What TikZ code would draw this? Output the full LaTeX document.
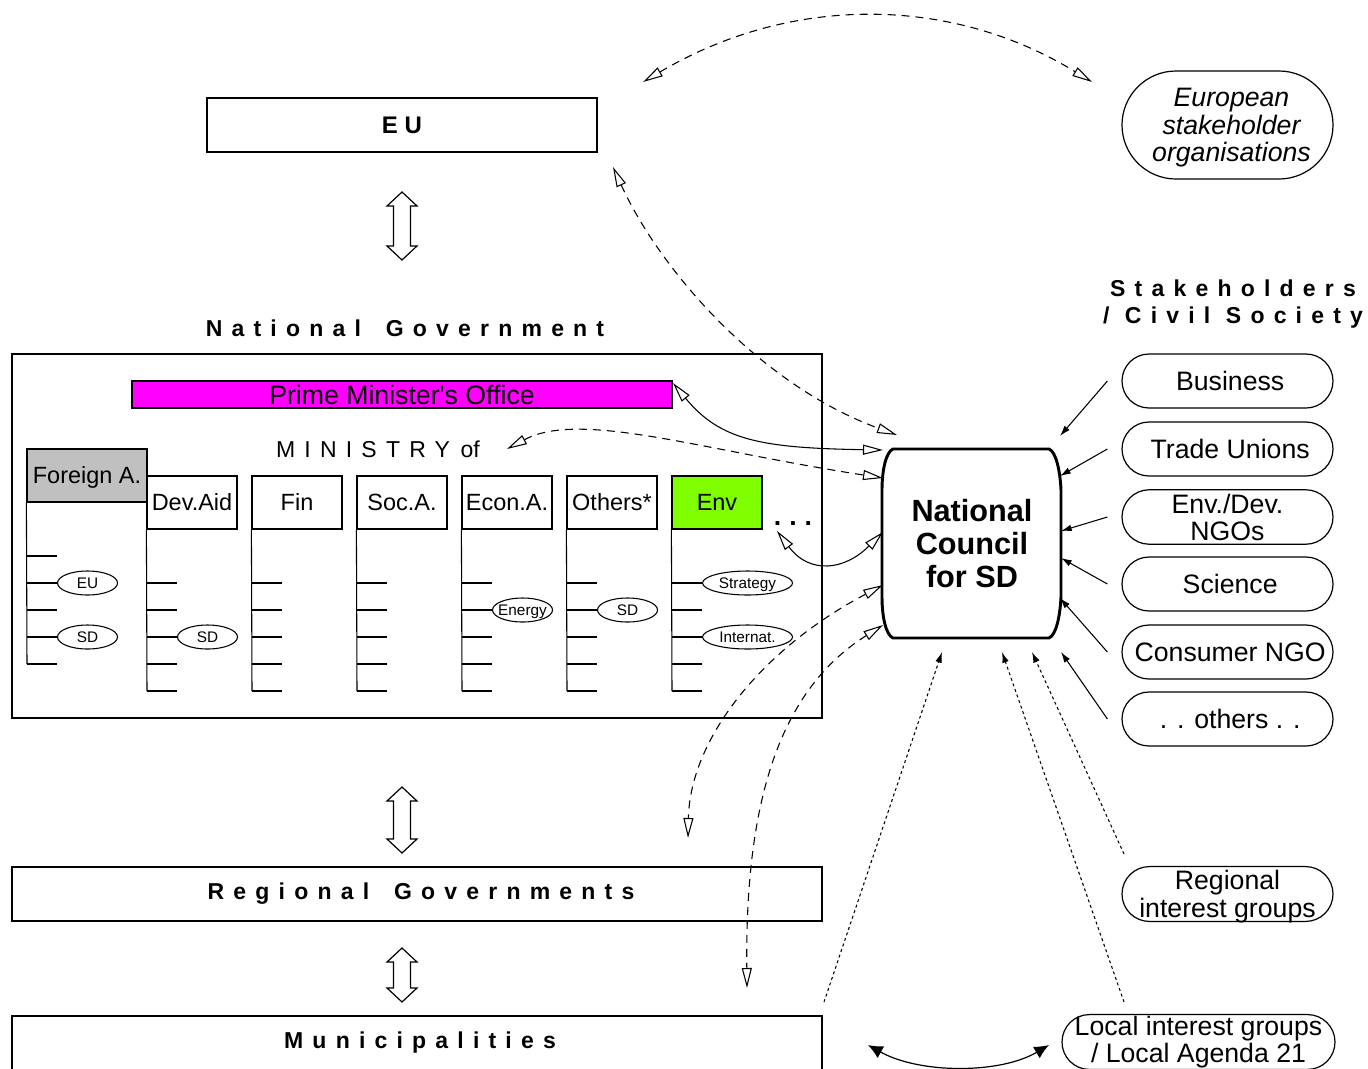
\documentclass[tikz,border=0pt]{standalone}
\usepackage{fontspec}
\setmainfont{Liberation Sans}
\newfontfamily\spacedfont[LetterSpace=40]{Liberation Sans}
\usetikzlibrary{arrows.meta,shapes.geometric,shapes.misc,calc}
\definecolor{envgreen}{RGB}{128,255,0}
\definecolor{fagray}{RGB}{192,192,192}
\definecolor{pmomag}{RGB}{255,0,255}
\newcommand\ttlfont{\spacedfont\bfseries\fontsize{17.25}{20.25}\selectfont}
\newcommand\zw[1]{\makebox[0pt]{#1}}
\newcommand\ztab[2][-3pt]{\makebox[0pt]{\raisebox{#1}[\height][\depth]{\begin{tabular}{@{}c@{}}#2\end{tabular}}}}
\tikzset{
  box/.style={draw, line width=0.9pt, inner sep=0pt},
  hdr/.style={box, minimum width=67.5pt, minimum height=39.75pt, text height=12.6pt, text depth=0pt, font=\fontsize{17.6}{20}\selectfont},
  sub/.style={draw, ellipse, line width=0.8pt, inner sep=0pt, minimum height=18pt, text height=8.2pt, text depth=0pt, font=\fontsize{11.5}{13}\selectfont},
  stake/.style={draw, rounded rectangle, line width=0.9pt, inner sep=0pt, minimum width=158.25pt, minimum height=40.5pt, align=center, font=\fontsize{20}{20.25}\selectfont},
  tick/.style={line width=0.8pt},
  opentips/.style={{Triangle[open,length=15pt,width=7.5pt]}-{Triangle[open,length=15pt,width=7.5pt]}},
  dashlink/.style={opentips, line width=0.8pt, dash pattern=on 6pt off 4.5pt},
  solidlink/.style={opentips, line width=0.8pt},
  dotlink/.style={line width=0.8pt, dash pattern=on 2.2pt off 2.2pt, -{Latex[length=8pt,width=5pt]}},
  stlink/.style={line width=0.8pt, -{Latex[length=8pt,width=5pt]}},
  pics/dblarr/.style={code={
    \draw[line width=0.9pt, fill=white] (0,-#1) -- (15,-#1+14) -- (8.5,-#1+14) -- (8.5,#1-14) -- (15,#1-14)
      -- (0,#1) -- (-15,#1-14) -- (-8.5,#1-14) -- (-8.5,-#1+14) -- (-15,-#1+14) -- cycle;
  }}
}
\begin{document}
\begin{tikzpicture}[x=0.75pt,y=-0.75pt]
\useasboundingbox (0,0) rectangle (1368,1068);

% EU
\node[box, minimum width=292.5pt, minimum height=40.5pt, font=\bfseries\fontsize{18}{20}\selectfont] (eu) at (402,125) {E U};
\pic at (402,226) {dblarr=34};

% National government
\node[font=\ttlfont] (ngtitle) at (405,328) {National\hspace{7pt} Government};
\node[box, minimum width=607.5pt, minimum height=273pt] (ng) at (417,536) {};
\node[box, fill=pmomag, minimum width=405pt, minimum height=20.25pt, font=\fontsize{20}{22}\selectfont] (pmo) at (402,394.5) {Prime Minister\textquotesingle s Office};
\node[font=\fontsize{17.25}{20}\selectfont] (min) at (378,449) {{\spacedfont MINISTRY}\hspace{8pt}of};

\node[hdr, minimum width=90pt, fill=fagray] (fa) at (87,475.5) {Foreign A.};
\node[hdr] (dev) at (192,502.5) {Dev.Aid};
\node[hdr] (fin) at (297,502.5) {Fin};
\node[hdr] (soc) at (402,502.5) {Soc.A.};
\node[hdr] (eco) at (507,502.5) {Econ.A.};
\node[hdr] (oth) at (612,502.5) {Others*};
\node[hdr, fill=envgreen] (env) at (717,502.5) {Env};
\node[font=\bfseries\fontsize{20}{22}\selectfont] (dots) at (793,524) {.\hspace{6pt}.\hspace{6pt}.};

\draw[tick] (fa.south west) -- (27,664);
\foreach \y in {556,583,610,637,664} \draw[tick] (27,\y) -- ++(30,0);
\foreach \n/\x in {dev/147,fin/252,soc/357,eco/462,oth/567,env/672} {
  \draw[tick] (\n.south west) -- (\x,691);
  \foreach \y in {583,610,637,664,691} \draw[tick] (\x,\y) -- ++(30,0);
}
\node[sub, minimum width=45pt, anchor=west] (faeu) at (57,583) {\zw{EU}};
\node[sub, minimum width=45pt, anchor=west] (fasd) at (57,637) {\zw{SD}};
\node[sub, minimum width=45pt, anchor=west] (devsd) at (177,637) {\zw{SD}};
\node[sub, minimum width=45pt, anchor=west] (ecoen) at (492,610) {\zw{Energy}};
\node[sub, minimum width=45pt, anchor=west] (othsd) at (597,610) {\zw{SD}};
\node[sub, minimum width=67.5pt, anchor=west] (envst) at (702,583) {\zw{Strategy}};
\node[sub, minimum width=67.5pt, anchor=west] (envin) at (702,637) {\zw{Internat.}};

% lower levels
\pic at (402,820) {dblarr=33};
\node[box, minimum width=607.5pt, minimum height=40.5pt, font=\ttlfont] (rg) at (417,894) {\hspace{6pt}Regional\hspace{7pt} Governments};
\pic at (402,975) {dblarr=27};
\node[box, minimum width=607.5pt, minimum height=45pt] (mu) at (417,1046) {};
\node[font=\ttlfont] (mutext) at (420,1043) {Municipalities};

% National council
\draw[line width=2.2pt] (893,449) -- (1049,449) .. controls (1056,452) and (1060,470) .. (1061,490) -- (1061,597)
  .. controls (1060,617) and (1056,635) .. (1049,638) -- (893,638) .. controls (886,635) and (882,617) .. (882,597)
  -- (882,490) .. controls (882,470) and (886,452) .. (893,449) -- cycle;
\node[font=\bfseries\fontsize{23}{24.75}\selectfont, align=center] (nc) at (972,544) {National\\Council\\for SD};

% stakeholders
\node[font=\ttlfont, align=center] (shtitle) at (1233,304) {Stakeholders\\/ Civil Society};
\node[stake] (bus) at (1227.5,381) {\zw{\hspace{4pt}Business}};
\node[stake] (tu) at (1227.5,449) {\zw{\hspace{4pt}Trade Unions}};
\node[stake] (ngo) at (1227.5,517) {\ztab{Env./Dev.\\NGOs}};
\node[stake] (sci) at (1227.5,584) {\zw{\hspace{4pt}Science}};
\node[stake] (con) at (1227.5,652) {\zw{\hspace{4pt}Consumer NGO}};
\node[stake] (oth2) at (1227.5,719) {\zw{\hspace{4pt}. . others . .}};
\node[stake] (reg) at (1227.5,894) {\ztab{Regional\\interest groups}};
\node[stake, minimum width=204.75pt] (loc) at (1198.5,1042) {\ztab[-1pt]{Local interest groups\\/ Local Agenda 21}};
\node[stake, minimum height=81pt, font=\itshape\fontsize{20}{20.25}\selectfont] (eso) at (1227.5,125) {\zw{\hspace{6pt}\raisebox{-3pt}[\height][\depth]{\begin{tabular}{@{}c@{}}European\\stakeholder\\organisations\end{tabular}}}};

% coordinates
\coordinate (euE) at (613,167);
\coordinate (euA) at (643,82);
\coordinate (esoA) at (1092,82);
\coordinate (ncEU) at (897,435);
\coordinate (ncPM) at (883,450);
\coordinate (ncMI) at (883,478);
\coordinate (ncDT) at (883,532);
\coordinate (ncD1) at (883,585);
\coordinate (ncD2) at (883,625);
\coordinate (pmoE) at (673,383);
\coordinate (minE) at (507,449);
\coordinate (dotsE) at (777,531);
\coordinate (d1E) at (688,838);
\coordinate (d2E) at (747,988);
\coordinate (ncB1) at (942,652);
\coordinate (ncB2) at (1002,652);
\coordinate (ncB3) at (1032,652);
\coordinate (ncB4) at (1061,652);
\coordinate (muE) at (824,1002);
\coordinate (locE) at (1124,1002);
\coordinate (regE) at (1124,854);
\coordinate (muL) at (868,1045);
\coordinate (locL) at (1049,1045);

% connectors
\draw[dashlink] (euA) .. controls (790,-5) and (950,-5) .. (esoA);
\draw[dashlink] (euE) .. controls (660,270) and (760,385) .. (ncEU);
\draw[solidlink] (pmoE) .. controls (720,440) and (760,448) .. (ncPM);
\draw[dashlink] (minE) .. controls (580,410) and (700,450) .. (ncMI);
\draw[solidlink] (dotsE) .. controls (810,575) and (845,570) .. (ncDT);
\draw[dashlink] (ncD1) .. controls (760,650) and (690,740) .. (d1E);
\draw[dashlink] (ncD2) .. controls (780,690) and (745,800) .. (d2E);

\draw[stlink] ($(bus.west)+(-14,0)$) -- (1060,436);
\draw[stlink] ($(tu.west)+(-14,0)$) -- (1060,476);
\draw[stlink] ($(ngo.west)+(-14,0)$) -- (1061,531);
\draw[stlink] ($(sci.west)+(-14,0)$) -- (1061,558);
\draw[stlink] ($(con.west)+(-14,0)$) -- (1060,598);
\draw[stlink] ($(oth2.west)+(-14,0)$) -- (ncB4);

\draw[dotlink] (muE) -- (ncB1);
\draw[dotlink] (locE) -- (ncB2);
\draw[dotlink] (regE) -- (ncB3);

\draw[line width=0.9pt, {Latex[length=11pt,width=10pt]}-{Latex[length=11pt,width=10pt]}] (muL) .. controls (920,1074) and (1000,1074) .. (locL);
\end{tikzpicture}
\end{document}
